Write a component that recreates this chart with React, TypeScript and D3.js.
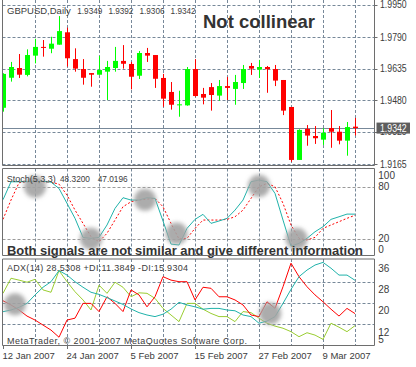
import * as d3 from "d3";

// GBPUSD daily candles, 12 Jan 2007 .. 15 Mar 2007
const open = [1.9442, 1.959, 1.9638, 1.9604, 1.9699, 1.9742, 1.9733, 1.9753, 1.9814, 1.9682, 1.9633, 1.9613, 1.9605, 1.962, 1.9638, 1.9673, 1.9658, 1.96, 1.9712, 1.9702, 1.9589, 1.952, 1.9457, 1.9454, 1.9633, 1.951, 1.9544, 1.9502, 1.9549, 1.9535, 1.9564, 1.9648, 1.963, 1.9643, 1.9633, 1.9579, 1.9446, 1.9185, 1.9338, 1.9303, 1.9285, 1.9342, 1.9324, 1.928, 1.9349];
const high = [1.9612, 1.9668, 1.9707, 1.973, 1.9782, 1.9776, 1.9792, 1.9894, 1.9837, 1.9735, 1.9682, 1.9613, 1.9697, 1.9673, 1.9742, 1.9751, 1.9668, 1.9722, 1.9737, 1.9702, 1.9609, 1.9569, 1.9526, 1.9643, 1.9682, 1.954, 1.9564, 1.9579, 1.9594, 1.9604, 1.9653, 1.9663, 1.9678, 1.9648, 1.9653, 1.9579, 1.9446, 1.9336, 1.9357, 1.9352, 1.9341, 1.9431, 1.9352, 1.9372, 1.9392];
const low = [1.9423, 1.9571, 1.9589, 1.9597, 1.9661, 1.9694, 1.9711, 1.9753, 1.9645, 1.962, 1.9556, 1.9546, 1.9605, 1.948, 1.962, 1.9635, 1.9533, 1.9584, 1.9668, 1.954, 1.9447, 1.9433, 1.9398, 1.9452, 1.9497, 1.9459, 1.9428, 1.9477, 1.948, 1.9457, 1.9535, 1.9604, 1.9589, 1.9516, 1.9549, 1.9406, 1.9176, 1.9185, 1.9255, 1.9264, 1.9259, 1.9245, 1.9262, 1.9206, 1.9306];
const close = [1.9609, 1.9643, 1.9605, 1.9702, 1.9742, 1.9737, 1.9758, 1.982, 1.9686, 1.9635, 1.959, 1.9605, 1.9628, 1.9643, 1.9673, 1.9659, 1.9595, 1.9712, 1.9699, 1.9585, 1.9487, 1.9457, 1.9459, 1.9633, 1.95, 1.9492, 1.9505, 1.9549, 1.954, 1.9569, 1.9633, 1.9635, 1.9643, 1.9632, 1.9576, 1.9428, 1.9185, 1.9333, 1.9305, 1.9292, 1.9319, 1.9324, 1.928, 1.9347, 1.9342];

// Stochastic (5,3,3)
const stochMain = [65, 85.7, 85.7, 85.7, 86.1, 86.1, 85.3, 78, 60.8, 43.5, 21.5, 20.4, 21.5, 35.8, 55, 67.3, 64.6, 64.6, 67.3, 66.5, 40.4, 13.8, 12.7, 31.9, 42.3, 48.1, 37.7, 40.4, 43.5, 53, 64.6, 85.7, 87.7, 85.7, 72.3, 41.5, 11.5, 14.6, 20.4, 28, 33.8, 42.3, 45.3, 48.4, 48.32];
const stochSignal = [42.3, 64.6, 84.6, 85.7, 85.7, 85.7, 85.3, 83, 70.4, 53, 37.7, 22.3, 16.5, 26.2, 41.5, 56.9, 62.6, 64.6, 65.7, 66.5, 56.9, 37.7, 19.6, 20.4, 31.9, 41.5, 41.5, 41.5, 42.3, 45.3, 53, 66.5, 80, 83.8, 80, 60.8, 35.8, 20.4, 18.5, 21.5, 31.9, 35.8, 39.6, 43.5, 47.0196];

// ADX(14)
const adxMain = [16.65, 17.3, 18.3, 19.8, 23, 25.9, 28, 32.2, 30.5, 28, 25.9, 24, 23.2, 22, 20.7, 19.4, 17.7, 16.3, 15.4, 14.8, 15.7, 17.6, 20.2, 19.2, 18.5, 17.6, 17.9, 17.9, 17.3, 17, 15.4, 14.8, 12.3, 13.1, 14.8, 19.8, 25.1, 29.9, 32.4, 34.3, 35.3, 33.1, 30.5, 30.5, 28.5308];
const plusDI = [23.6, 29.3, 28.6, 27.8, 28.9, 24.9, 24, 32.2, 28, 24.2, 21.1, 17.3, 26.7, 23.6, 27.8, 25.9, 22.3, 23.8, 23.6, 21.7, 17.9, 15.4, 12.9, 19.8, 19.8, 17.6, 16, 14.8, 14.8, 12.9, 16.7, 16.3, 14.2, 12.3, 11.2, 10.4, 9.1, 7.2, 8.7, 7.8, 6.2, 12.3, 10.8, 9.1, 11.3849];
const minusDI = [20.8, 19.2, 17.3, 15, 13.5, 11.6, 9.7, 7, 13.5, 14.2, 19.8, 19.8, 16.7, 22.3, 19.8, 16.7, 24.9, 23, 18.5, 22.3, 29.9, 28.6, 28, 28, 21.1, 25.9, 25.5, 22.3, 22.3, 21.1, 19.2, 15.4, 14.8, 20.4, 17.9, 26.1, 35, 29.9, 26.1, 23, 20.4, 17.6, 15, 17.9, 15.9304];

const priceTicks = [1.995, 1.979, 1.9635, 1.948, 1.9325, 1.9165];
const stochTicks = [100, 80, 20, 0];
const stochLevels = [80, 20];
const adxTicks = [36, 28, 20, 12, 5];
const adxGrid = [28, 20, 12];
const dateTickIdx = [0, 8, 16, 24, 32, 40];
const dateTickLabels = ["12 Jan 2007", "24 Jan 2007", "5 Feb 2007", "15 Feb 2007", "27 Feb 2007", "9 Mar 2007"];

// highlighted spots (bar index, indicator value)
const stochBlobs = [[4, 80], [11, 20], [17.75, 65], [21.7, 26], [32, 81], [36.7, 20]];
const adxBlobs = [[1.5, 19.5], [33.4, 16]];

const FONT = "'Liberation Sans', Arial, sans-serif";
const GRID = "#778899";
const FRAME = "#6e6e6e";
const TEXT = "#3c3c3c";

export default function App() {
  const width = 416;
  const height = 367;
  const left = 2.5;
  const right = 374.5;
  const main = { top: 0, bottom: 165.5 };
  const stoch = { top: 168.5, bottom: 255.5 };
  const adx = { top: 259, bottom: 345.5 };

  const x = d3.scaleLinear().domain([0, close.length - 1]).range([3, 355]);
  const yPrice = d3.scaleLinear().domain([1.9165, 1.995]).range([164, 4.7]);
  const yStoch = d3.scaleLinear().domain([0, 100]).range([256, 169.4]);
  const yAdx = d3.scaleLinear().domain([12, 28]).range([324, 281.7]);

  const vGrid = d3.range(4, close.length, 4).map((i) => Math.round(x(i)) + 0.5);

  const stochLine = d3.line<number>().x((_, i) => x(i)).y((v) => yStoch(v));
  const adxLine = d3.line<number>().x((_, i) => x(i)).y((v) => yAdx(v));

  const last = close.length - 1;
  const lastClose = close[last];

  const vLines = (top: number, bottom: number, key: string) =>
    vGrid.map((gx) => (
      <line key={`${key}-${gx}`} x1={gx} x2={gx} y1={top} y2={bottom} stroke={GRID} strokeDasharray="3,2" />
    ));

  const hLine = (y: number, key: string, color = GRID) => (
    <line key={key} x1={left} x2={right} y1={y} y2={y} stroke={color} strokeDasharray="3,2" />
  );

  return (
    <svg width={width} height={height} style={{ position: "absolute", left: 0, top: 0, background: "#fff" }} fontFamily={FONT}>
      <defs>
        <filter id="soft" x="-50%" y="-50%" width="200%" height="200%">
          <feGaussianBlur stdDeviation={2.2} />
        </filter>
        <clipPath id="clipMain">
          <rect x={left} y={main.top} width={right - left} height={main.bottom - main.top} />
        </clipPath>
        <clipPath id="clipStoch">
          <rect x={left} y={stoch.top} width={right - left} height={stoch.bottom - stoch.top} />
        </clipPath>
        <clipPath id="clipAdx">
          <rect x={left} y={adx.top} width={right - left} height={adx.bottom - adx.top} />
        </clipPath>
      </defs>
      <rect width={width} height={height} fill="#fff" />

      {/* main price panel */}
      <g clipPath="url(#clipMain)">
        {vLines(main.top, main.bottom, "vm")}
        {priceTicks.map((t) => hLine(Math.round(yPrice(t)) + 0.5, `hp-${t}`))}
        <line x1={left} x2={right} y1={Math.round(yPrice(lastClose)) + 0.5} y2={Math.round(yPrice(lastClose)) + 0.5} stroke={GRID} />
        {close.map((c, i) => {
          const xc = Math.round(x(i));
          const o = open[i];
          const col = c >= o ? "#00ff00" : "#ff0000";
          const yo = yPrice(o);
          const yc = yPrice(c);
          const top = Math.min(yo, yc);
          const h = Math.max(1, Math.abs(yo - yc));
          return (
            <g key={`c-${i}`}>
              <rect x={xc} y={yPrice(high[i])} width={1} height={yPrice(low[i]) - yPrice(high[i])} fill={col} />
              <rect x={xc - 2} y={top} width={5} height={h} fill={col} />
            </g>
          );
        })}
      </g>
      <text x={7} y={13.5} fontSize={9.5} fill={TEXT}>GBPUSD,Daily</text>
      {[open[last], high[last], low[last], close[last]].map((v, k) => (
        <text key={`ohlc-${k}`} x={77.3 + k * 31.1} y={13.5} fontSize={9.5} fill={TEXT} textLength={25} lengthAdjust="spacingAndGlyphs">
          {v.toFixed(4)}
        </text>
      ))}
      <text x={203} y={28.3} fontSize={18.5} fontWeight="bold" fill="#333">Not collinear</text>

      {/* stochastic panel */}
      <g clipPath="url(#clipStoch)">
        {vLines(stoch.top, stoch.bottom, "vs")}
        {stochLevels.map((l) => hLine(Math.round(yStoch(l)) + 0.5, `hs-${l}`, "#9a9a9a"))}
        <path d={stochLine(stochSignal) ?? ""} fill="none" stroke="#ff0000" strokeDasharray="2,2" />
        <path d={stochLine(stochMain) ?? ""} fill="none" stroke="#20b2aa" />
        {stochBlobs.map(([i, v], k) => (
          <circle key={`sb-${k}`} cx={x(i)} cy={yStoch(v)} r={11} fill="#a3a3a3" fillOpacity={0.9} filter="url(#soft)" />
        ))}
      </g>
      <text x={6.7} y={181.7} fontSize={9} fill={TEXT}>Stoch(5,3,3)</text>
      <text x={60} y={181.7} fontSize={9} fill={TEXT} textLength={30} lengthAdjust="spacingAndGlyphs">{stochMain[last].toFixed(4)}</text>
      <text x={97.7} y={181.7} fontSize={9} fill={TEXT} textLength={30} lengthAdjust="spacingAndGlyphs">{stochSignal[last].toFixed(4)}</text>
      <text x={7} y={254.5} fontSize={13.5} fontWeight="bold" fill="#333" textLength={356} lengthAdjust="spacingAndGlyphs">
        Both signals are not similar and give different information
      </text>

      {/* ADX panel */}
      <g clipPath="url(#clipAdx)">
        {vLines(adx.top, adx.bottom, "va")}
        {adxGrid.map((l) => hLine(Math.round(yAdx(l)) + 0.5, `ha-${l}`))}
        <path d={adxLine(plusDI) ?? ""} fill="none" stroke="#9acd32" />
        <path d={adxLine(minusDI) ?? ""} fill="none" stroke="#ff0000" />
        <path d={adxLine(adxMain) ?? ""} fill="none" stroke="#20b2aa" />
        {adxBlobs.map(([i, v], k) => (
          <circle key={`ab-${k}`} cx={x(i)} cy={yAdx(v)} r={11} fill="#a3a3a3" fillOpacity={0.9} filter="url(#soft)" />
        ))}
      </g>
      <text x={7} y={270.7} fontSize={9} fill={TEXT} textLength={181} lengthAdjust="spacing">
        {`ADX(14) ${adxMain[last].toFixed(4)} +DI:${plusDI[last].toFixed(4)} -DI:${minusDI[last].toFixed(4)}`}
      </text>
      <text x={7} y={344} fontSize={9} fill={TEXT} textLength={240} lengthAdjust="spacing">
        MetaTrader, © 2001-2007 MetaQuotes Software Corp.
      </text>

      {/* frames */}
      {[main, stoch, adx].map((p, k) => (
        <g key={`frame-${k}`} fill="none" stroke={FRAME}>
          {k > 0 && <line x1={left} x2={right} y1={p.top} y2={p.top} />}
          <line x1={left} x2={right} y1={p.bottom} y2={p.bottom} />
          <line x1={left} x2={left} y1={p.top} y2={p.bottom} />
          <line x1={right} x2={right} y1={p.top} y2={p.bottom} />
        </g>
      ))}

      {/* right axis labels */}
      {priceTicks.map((t) => (
        <g key={`pl-${t}`}>
          <line x1={right} x2={377.5} y1={Math.round(yPrice(t)) + 0.5} y2={Math.round(yPrice(t)) + 0.5} stroke={FRAME} />
          <text x={380} y={yPrice(t) + 3.6} fontSize={10} fill={TEXT} textLength={26.7} lengthAdjust="spacingAndGlyphs">
            {t.toFixed(4)}
          </text>
        </g>
      ))}
      <rect x={376.5} y={yPrice(lastClose) - 5.5} width={33.5} height={11} fill="#5e5e5e" />
      <text x={380} y={yPrice(lastClose) + 3.6} fontSize={10} fill="#fff" textLength={26.7} lengthAdjust="spacingAndGlyphs">
        {lastClose.toFixed(4)}
      </text>
      {stochTicks.map((t) => (
        <text key={`sl-${t}`} x={378.3} y={Math.min(Math.max(yStoch(t), 175), 249.5) + 3.5} fontSize={10} fill={TEXT}>
          {t}
        </text>
      ))}
      {adxTicks.map((t) => (
        <text key={`al-${t}`} x={378.3} y={Math.min(Math.max(yAdx(t) + 8, 265), 339.8) + 3.5} fontSize={10} fill={TEXT}>
          {t}
        </text>
      ))}

      {/* date axis */}
      {dateTickIdx.map((i, k) => {
        const tx = Math.round(x(i)) + 0.5;
        return (
          <g key={`d-${i}`}>
            <line x1={tx} x2={tx} y1={adx.bottom} y2={349} stroke={FRAME} />
            <text x={tx - 1} y={359} fontSize={9.5} fill={TEXT}>{dateTickLabels[k]}</text>
          </g>
        );
      })}
    </svg>
  );
}
